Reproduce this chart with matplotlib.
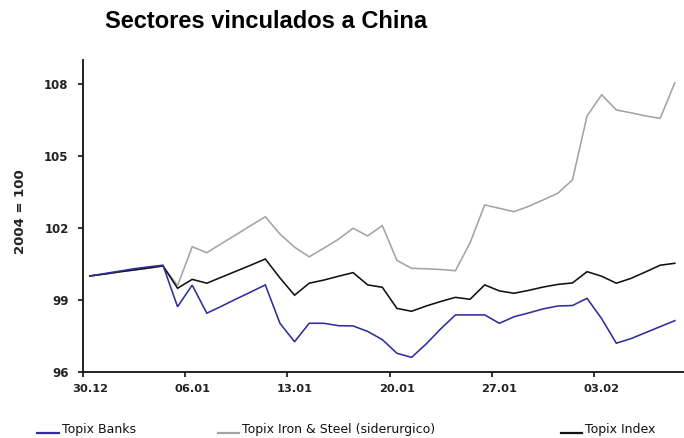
import numpy as np
import matplotlib
matplotlib.use("Agg")
import matplotlib.pyplot as plt
from matplotlib.lines import Line2D

# Daily index levels (2004 = 100), one value per calendar day from 30.12 to 08.02
topix_banks = [100.0, 100.1, 100.2, 100.3, 100.38, 100.45, 98.72, 99.62, 98.45, 98.74,
               99.04, 99.33, 99.63, 98.03, 97.26, 98.03, 98.03, 97.93, 97.92, 97.69,
               97.35, 96.78, 96.61, 97.17, 97.8, 98.38, 98.38, 98.38, 98.03, 98.3,
               98.46, 98.63, 98.75, 98.77, 99.07, 98.22, 97.2, 97.39, 97.64, 97.89,
               98.14]
topix_steel = [100.0, 100.08, 100.17, 100.25, 100.33, 100.42, 99.6, 101.22, 100.97, 101.35,
               101.72, 102.1, 102.47, 101.75, 101.2, 100.8, 101.16, 101.53, 101.99, 101.67,
               102.1, 100.65, 100.32, 100.3, 100.27, 100.22, 101.38, 102.96, 102.82, 102.68,
               102.9, 103.17, 103.45, 104.0, 106.67, 107.55, 106.92, 106.8, 106.67, 106.57,
               108.05]
topix_index = [100.0, 100.08, 100.17, 100.25, 100.33, 100.42, 99.49, 99.86, 99.7, 99.95,
               100.2, 100.45, 100.71, 99.92, 99.2, 99.7, 99.83, 99.99, 100.14, 99.63,
               99.53, 98.65, 98.53, 98.75, 98.94, 99.11, 99.03, 99.63, 99.38, 99.28,
               99.4, 99.54, 99.65, 99.71, 100.18, 99.99, 99.7, 99.9, 100.17, 100.45,
               100.53]

date_labels = ["30.12", "06.01", "13.01", "20.01", "27.01", "03.02"]
label_step = 7
y_ticks = [96, 99, 102, 105, 108]

series_names = ["Topix Banks", "Topix Iron & Steel (siderurgico)", "Topix Index"]
series_colors = ["#2e2e9c", "#a3a3a3", "#111111"]

W, H = 684, 438
fig = plt.figure(figsize=(W / 100, H / 100), dpi=100)
fig.patch.set_facecolor("white")

# axes box in pixel coordinates
left_px, right_px, top_px, bottom_px = 82.5, 684, 60, 372
ax = fig.add_axes([left_px / W, 1 - bottom_px / H,
                   (right_px - left_px) / W, (bottom_px - top_px) / H])

x = np.arange(len(topix_index))
lw = 1.15
ax.plot(x, topix_steel, color=series_colors[1], lw=lw, solid_joinstyle="miter")
ax.plot(x, topix_index, color=series_colors[2], lw=lw, solid_joinstyle="miter")
ax.plot(x, topix_banks, color=series_colors[0], lw=lw, solid_joinstyle="miter")

step_px = 14.625
ax.set_xlim(-0.5, -0.5 + (right_px - left_px) / step_px)
ax.set_ylim(96, 96 + (bottom_px - top_px) / 24.0)

for s in ["top", "right"]:
    ax.spines[s].set_visible(False)
for s in ["left", "bottom"]:
    ax.spines[s].set_linewidth(1.3)
    ax.spines[s].set_color("#111111")

# tick marks sit on category boundaries, labels on the category centres
label_pos = np.arange(len(date_labels)) * label_step
ax.set_xticks(label_pos - 0.5)
ax.set_xticklabels([])
ax.set_xticks(label_pos, minor=True)
ax.set_xticklabels(date_labels, minor=True, fontsize=8.2, fontweight="bold",
                   family="DejaVu Sans", color="#222222")
ax.tick_params(axis="x", which="major", direction="out", length=3.5, width=1.2, color="#111111")
ax.tick_params(axis="x", which="minor", length=0, pad=9)

ax.set_yticks(y_ticks)
ax.set_yticklabels([str(v) for v in y_ticks], fontsize=8.5, fontweight="bold",
                   family="DejaVu Sans", color="#222222")
ax.tick_params(axis="y", direction="out", length=3.5, width=1.2, color="#111111", pad=6.5)

fig.text(21 / W, 1 - 212 / H, "2004 = 100", rotation=90, ha="center", va="center",
         fontsize=9.5, fontweight="bold", family="DejaVu Sans", color="#222222")

fig.text(105 / W, 1 - 28 / H, "Sectores vinculados a China", ha="left", va="baseline",
         fontsize=17, fontweight="bold", family="Liberation Sans", color="#000000")

# legend along the bottom edge
legend_items = [(37, 59, 62), (218, 239, 242), (561, 582, 585)]
for k, (x0, x1, tx) in enumerate(legend_items):
    fig.add_artist(Line2D([x0 / W, x1 / W], [1 - 433 / H, 1 - 433 / H],
                          color=series_colors[k], lw=1.6, transform=fig.transFigure))
    fig.text(tx / W, 1 - 433 / H, series_names[k], ha="left", va="baseline",
             fontsize=9, family="DejaVu Sans", color="#111111")

fig.savefig("out.png", dpi=100, facecolor="white")
